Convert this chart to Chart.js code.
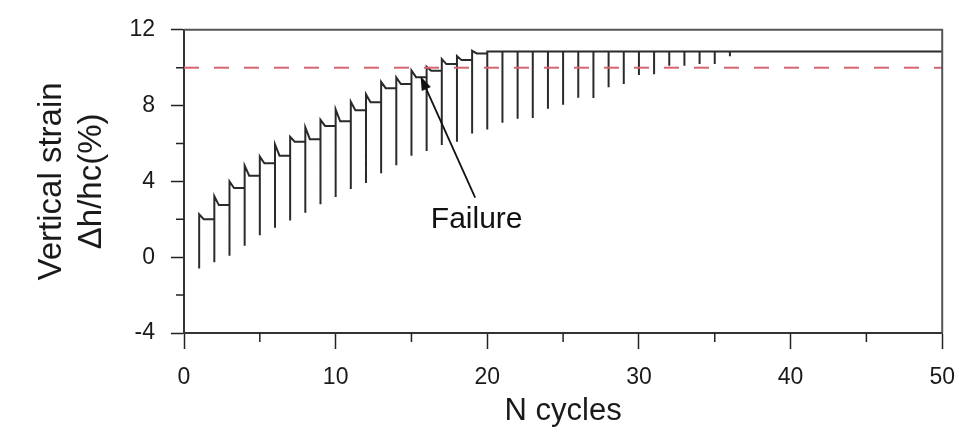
<!DOCTYPE html>
<html>
<head>
<meta charset="utf-8">
<script src="https://cdn.jsdelivr.net/npm/chart.js@4.4.0/dist/chart.umd.min.js"></script>
<style>
  body { margin: 0; background: #fff; }
  canvas { display: block; }
</style>
</head>
<body>
<canvas id="strainChart" width="970" height="432"></canvas>
<script>
// values
const cycles = [1, 2, 3, 4, 5, 6, 7, 8, 9, 10, 11, 12, 13, 14, 15, 16, 17, 18,
  19, 20, 21, 22, 23, 24, 25, 26, 27, 28, 29, 30, 31, 32, 33, 34, 35, 36];
const strainMin = [-0.6, -0.27, 0.08, 0.6, 1.16, 1.56, 1.94, 2.35, 2.8, 3.18, 3.6, 3.91,
  4.43, 4.85, 5.35, 5.6, 5.92, 6.09, 6.53, 6.74, 7.1, 7.31, 7.35, 7.83, 8.05, 8.42,
  8.4, 8.97, 9.14, 9.62, 9.66, 10.1, 10.1, 10.2, 10.2, 10.6];
const strainMax = [2.26, 3.22, 4.0, 4.83, 5.31, 5.95, 6.35, 6.85, 7.25, 7.8, 8.2, 8.6,
  9.25, 9.49, 9.85, 10.05, 10.45, 10.62, 10.89, 10.85, 10.85, 10.85, 10.85, 10.85,
  10.85, 10.85, 10.85, 10.85, 10.85, 10.85, 10.85, 10.85, 10.85, 10.85, 10.85, 10.85];
// strain after unloading (the flat step that runs to the next cycle)
const strainEnd = [2.0, 2.75, 3.65, 4.3, 4.96, 5.36, 6.09, 6.23, 6.93, 7.17, 7.75, 8.18,
  8.92, 9.14, 9.5, 9.84, 10.19, 10.4, 10.75, 10.85, 10.85, 10.85, 10.85, 10.85, 10.85,
  10.85, 10.85, 10.85, 10.85, 10.85, 10.85, 10.85, 10.85, 10.85, 10.85, 10.85];
const failureStrain = 10;
const lastCycle = 50;

const xTickStep = 10, xMinor = [5, 15, 25, 35, 45];
const yTickStep = 4, yMinor = [-2, 2, 6, 10];

const failureTip = [15.6, 9.55];
const failureTail = [19.2, 3.15];
const failureLabel = [19.3, 1.55];

// saw-tooth path: down to the minimum, up to the peak, quick drop, then flat to the next cycle
const unloadKnee = 0.3;
const path = [];
cycles.forEach((n, i) => {
  path.push({x: n, y: strainMin[i]});
  path.push({x: n, y: strainMax[i]});
  const nextX = i < cycles.length - 1 ? cycles[i + 1] : lastCycle;
  path.push({x: n + unloadKnee, y: strainEnd[i]});
  path.push({x: nextX, y: strainEnd[i]});
});

const FONT = 'Arial, "Liberation Sans", sans-serif';

const extras = {
  id: 'extras',
  afterDatasetsDraw(chart) {
    const {ctx, chartArea: a, scales: {x, y}} = chart;
    ctx.save();
    // box on top and right
    ctx.strokeStyle = '#555';
    ctx.lineWidth = 2;
    ctx.beginPath();
    ctx.moveTo(a.left, a.top);
    ctx.lineTo(a.right, a.top);
    ctx.lineTo(a.right, a.bottom);
    ctx.stroke();

    // minor ticks
    ctx.strokeStyle = '#222';
    ctx.lineWidth = 1.5;
    ctx.beginPath();
    xMinor.forEach(v => {
      const px = x.getPixelForValue(v);
      ctx.moveTo(px, a.bottom);
      ctx.lineTo(px, a.bottom + 9);
    });
    yMinor.forEach(v => {
      const py = y.getPixelForValue(v);
      ctx.moveTo(a.left, py);
      ctx.lineTo(a.left - 8, py);
    });
    ctx.stroke();

    // failure arrow
    const tx = x.getPixelForValue(failureTip[0]), ty = y.getPixelForValue(failureTip[1]);
    const sx = x.getPixelForValue(failureTail[0]), sy = y.getPixelForValue(failureTail[1]);
    const ang = Math.atan2(ty - sy, tx - sx);
    ctx.strokeStyle = '#111';
    ctx.lineWidth = 1.8;
    ctx.beginPath();
    ctx.moveTo(sx, sy);
    ctx.lineTo(tx - 8 * Math.cos(ang), ty - 8 * Math.sin(ang));
    ctx.stroke();
    ctx.fillStyle = '#111';
    ctx.beginPath();
    ctx.moveTo(tx, ty);
    ctx.lineTo(tx - 14 * Math.cos(ang) + 5 * Math.sin(ang), ty - 14 * Math.sin(ang) - 5 * Math.cos(ang));
    ctx.lineTo(tx - 14 * Math.cos(ang) - 5 * Math.sin(ang), ty - 14 * Math.sin(ang) + 5 * Math.cos(ang));
    ctx.closePath();
    ctx.fill();

    ctx.font = '30px ' + FONT;
    ctx.textAlign = 'center';
    ctx.textBaseline = 'alphabetic';
    ctx.fillText('Failure', x.getPixelForValue(failureLabel[0]), y.getPixelForValue(failureLabel[1]));
    ctx.restore();
  }
};

new Chart(document.getElementById('strainChart'), {
  type: 'line',
  data: {
    datasets: [{
      data: [{x: 0, y: failureStrain}, {x: lastCycle, y: failureStrain}],
      borderColor: '#d4646f',
      borderWidth: 2,
      borderDash: [15, 15],
      pointRadius: 0
    }, {
      data: path,
      borderColor: '#2a2a2a',
      borderWidth: 2,
      pointRadius: 0,
      tension: 0
    }]
  },
  options: {
    responsive: false,
    animation: false,
    devicePixelRatio: 1,
    layout: { padding: { top: 27, right: 19, left: 0, bottom: 0 } },
    plugins: { legend: { display: false }, tooltip: { enabled: false } },
    scales: {
      x: {
        type: 'linear',
        min: 0,
        max: lastCycle,
        afterFit: s => { s.height = 99; },
        ticks: { stepSize: xTickStep, padding: 15, color: '#1a1a1a', font: { size: 23, family: FONT } },
        grid: { drawOnChartArea: false, drawTicks: true, tickLength: 16, tickColor: '#222', tickWidth: 1.5 },
        border: { color: '#333', width: 2 },
        title: { display: true, text: 'N cycles', color: '#1a1a1a', font: { size: 31, family: FONT }, padding: { top: 0, bottom: 2 } }
      },
      y: {
        min: -4,
        max: 12,
        afterFit: s => { s.width = 184; },
        ticks: { stepSize: yTickStep, padding: 16, color: '#1a1a1a', font: { size: 23, family: FONT } },
        grid: { drawOnChartArea: false, drawTicks: true, tickLength: 13, tickColor: '#222', tickWidth: 1.5 },
        border: { color: '#333', width: 2 },
        title: { display: true, text: ['Vertical strain', 'Δh/hc(%)'], color: '#1a1a1a', font: { size: 33, family: FONT, lineHeight: 1.24 }, padding: { top: 31, bottom: 0 } }
      }
    }
  },
  plugins: [extras]
});
</script>
</body>
</html>
